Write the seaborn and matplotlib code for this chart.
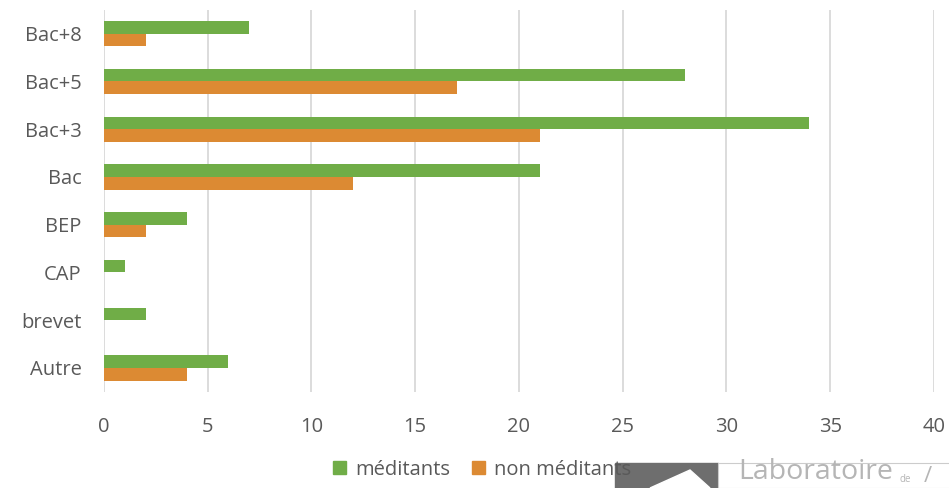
import pandas as pd
import matplotlib.pyplot as plt
import seaborn as sns
from matplotlib.patches import Rectangle, Polygon

# DATA
niveaux = ["Bac+8", "Bac+5", "Bac+3", "Bac", "BEP", "CAP", "brevet", "Autre"]
meditants = [7, 28, 34, 21, 4, 1, 2, 6]
non_meditants = [2, 17, 21, 12, 2, 0, 0, 4]
groupes = ["méditants", "non méditants"]
couleurs = ["#70ad47", "#dc8a33"]
x_ticks = [0, 5, 10, 15, 20, 25, 30, 35, 40]

df = pd.DataFrame({
    "Niveau": niveaux * 2,
    "Nombre": meditants + non_meditants,
    "Groupe": [groupes[0]] * len(niveaux) + [groupes[1]] * len(niveaux),
})

sns.set_style("white")
plt.rcParams["font.family"] = ["Open Sans", "DejaVu Sans"]

fig = plt.figure(figsize=(9.49, 4.88), dpi=100)
ax = fig.add_axes([0.1096, 0.197, 0.8745, 0.783])

sns.barplot(data=df, x="Nombre", y="Niveau", hue="Groupe", order=niveaux,
            hue_order=groupes, palette=couleurs, width=0.53, orient="h",
            saturation=1, linewidth=0, ax=ax, legend=False)

ax.set_xlim(0, 40)
ax.set_xticks(x_ticks)
ax.set_ylim(len(niveaux) - 0.5, -0.5)
ax.grid(axis="x", color="#d9d9d9", linewidth=1.3)
ax.set_axisbelow(True)
for s in ax.spines.values():
    s.set_visible(False)
ax.set_xlabel("")
ax.set_ylabel("")
ax.tick_params(axis="both", length=0, labelsize=14.5, labelcolor="#595959")
ax.tick_params(axis="x", pad=18)
ax.tick_params(axis="y", pad=16)

# legend
handles = [Rectangle((0, 0), 1, 1, color=c) for c in couleurs]
fig.legend(handles, groupes, loc="lower center", bbox_to_anchor=(0.508, -0.02),
           ncol=2, frameon=False, fontsize=14.5, labelcolor="#595959",
           handlelength=0.65, handleheight=0.65, columnspacing=1.1,
           handletextpad=0.45)

# logo du laboratoire (approximation)
fig.patches.append(Rectangle((615 / 949, 0), 103 / 949, 25 / 488,
                             transform=fig.transFigure, color="#6e6e6e"))
fig.patches.append(Polygon([(650 / 949, 0), (690 / 949, 18 / 488),
                            (710 / 949, 0)], transform=fig.transFigure,
                           color="white"))
fig.patches.append(Rectangle((718 / 949, 0), 235 / 949, 25 / 488,
                             transform=fig.transFigure, facecolor="white",
                             edgecolor="#cccccc", linewidth=0.8))
fig.text(738 / 949, 0.004, "Laboratoire", fontsize=20.5,
         color="#b5b5b5", ha="left", va="bottom")
fig.text(900 / 949, 0.006, "de", fontsize=7, color="#b5b5b5",
         ha="left", va="bottom")
fig.text(924 / 949, 0.002, "/", fontsize=16, color="#b5b5b5",
         ha="left", va="bottom")

fig.savefig("out.png", dpi=100)
